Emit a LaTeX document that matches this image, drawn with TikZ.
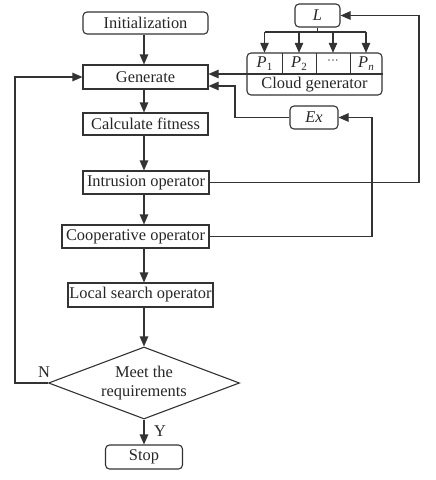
\documentclass[tikz,border=0pt]{standalone}
\usepackage{fontspec}
\setmainfont{Liberation Serif}
\usetikzlibrary{shapes.geometric,arrows.meta,calc}
\newcommand{\mysub}[1]{\raisebox{-0.35ex}{\fontsize{11}{11}\selectfont #1}}
\begin{document}
\begin{tikzpicture}[x=1pt,y=-1pt,
  every node/.style={font=\fontsize{16.4}{19.5}\selectfont, text=black!85},
  line/.style={draw=black!80, line width=1.1pt},
  arr/.style={line, -{Triangle[length=10pt,width=8.5pt]}},
  procbox/.style={line, rectangle, inner sep=0pt, minimum height=#1},
  procbox/.default=23pt,
  roundbox/.style={line, rectangle, rounded corners=4pt, inner sep=0pt, minimum height=23pt},
  cell/.style={rectangle, inner sep=0pt, minimum height=21pt}
]
\useasboundingbox (0,0) rectangle (436,480);
% main column
\node[roundbox, minimum width=125pt, minimum height=22pt] (init) at (145.5,23) {Initialization};
\node[procbox=24pt, minimum width=125pt] (gen) at (145.5,77) {Generate};
\node[procbox=22pt, minimum width=125pt] (calc) at (145.5,124) {Calculate fitness};
\node[procbox, minimum width=126pt] (intr) at (146,182.5) {Intrusion operator};
\node[procbox, minimum width=147pt] (coop) at (135.5,236.5) {Cooperative operator};
\node[procbox=24pt, minimum width=145pt] (local) at (140.5,295) {Local search operator};
\node[line, diamond, aspect=2.65, inner sep=0pt, minimum width=191pt, minimum height=72pt, align=center] (dia) at (144,383) {Meet the\\requirements};
\node[roundbox, minimum width=77pt, minimum height=24pt] (stop) at (144,457) {Stop};
% right side
\node[roundbox, minimum width=45pt] (L) at (317.5,15.5) {\textit{L}};
\node[line, rectangle, rounded corners=4pt, inner sep=0pt, minimum width=135pt, minimum height=42pt] (cloud) at (314.5,74) {};
\node[cell, minimum width=35pt] (p1) at (264.5,63.5) {\textit{P}\mysub{1}};
\node[cell, minimum width=34pt] (p2) at (299,63.5) {\textit{P}\mysub{2}};
\node[cell, minimum width=34pt] (p3) at (333,63.5) {\raisebox{0.4ex}{\fontsize{12}{12}\selectfont ···}};
\node[cell, minimum width=32pt] (pn) at (366,63.5) {\textit{P}\mysub{\textit{n}}};
\node (cgtext) at (314.5,85) {Cloud generator};
\node[roundbox, minimum width=48pt] (ex) at (314,117.5) {\textit{Ex}};
% coordinates
\coordinate (cx) at (144,0);
\coordinate (bar) at (0,32);
\coordinate (lx) at (15,0);
\coordinate (exj) at (235,86);
\coordinate (rx1) at (372,0);
\coordinate (rx2) at (419,0);
% cloud inner lines
\draw[line] (cloud.west) -- (cloud.east);
\draw[line] (p1.north east) -- (p1.south east);
\draw[line] (p2.north east) -- (p2.south east);
\draw[line] (p3.north east) -- (p3.south east);
% L to cells
\draw[line] (L.south) -- (L.south |- bar);
\draw[line] (p1.north |- bar) -- (pn.north |- bar);
\foreach \p in {p1,p2,p3,pn} \draw[arr] (\p.north |- bar) -- (\p.north);
% main flow
\draw[arr] (init.south -| cx) -- (gen.north -| cx);
\draw[arr] (gen.south -| cx) -- (calc.north -| cx);
\draw[arr] (calc.south -| cx) -- (intr.north -| cx);
\draw[arr] (intr.south -| cx) -- (coop.north -| cx);
\draw[arr] (coop.south -| cx) -- (local.north -| cx);
\draw[arr] (local.south -| cx) -- (dia.north);
\draw[arr] (dia.south) -- (stop.north);
\node at (160,431) {Y};
% loop back
\draw[arr] (dia.west) -| (lx |- gen.west) -- (gen.west);
\node at (44,372) {N};
% cloud to generate
\draw[arr] (cloud.west) -- (cloud.west -| gen.east);
% Ex to generate
\draw[arr] (ex.west) -| (exj) -- (exj -| gen.east);
% cooperative to Ex
\draw[arr] (coop.east) -| (rx1 |- ex.east) -- (ex.east);
% intrusion to L
\draw[arr] (intr.east) -| (rx2 |- L.east) -- (L.east);
\end{tikzpicture}
\end{document}
